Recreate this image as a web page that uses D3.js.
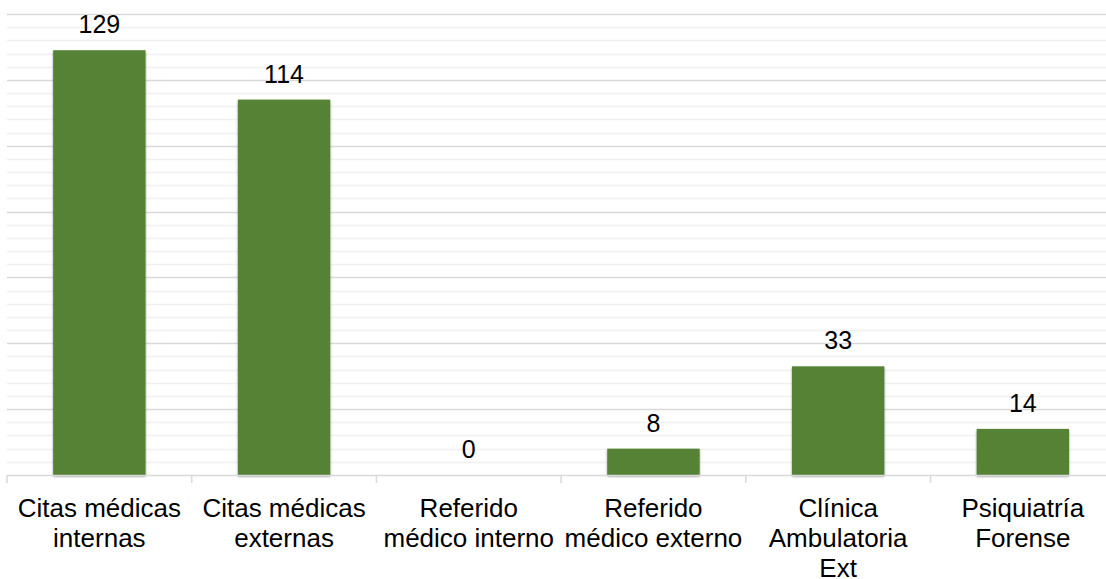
<!DOCTYPE html>
<html>
<head>
<meta charset="utf-8">
<script src="https://cdn.jsdelivr.net/npm/d3@7"></script>
<style>
  body { margin: 0; background: #fff; }
  svg { display: block; font-family: "Liberation Sans", Arial, sans-serif; }
</style>
</head>
<body>
<svg id="chart" width="1106" height="579"></svg>
<script>
const categories = ['Citas médicas internas', 'Citas médicas externas', 'Referido médico interno',
    'Referido médico externo', 'Clínica Ambulatoria Ext', 'Psiquiatría Forense'];
const categoryLines = [
    ['Citas médicas', 'internas'],
    ['Citas médicas', 'externas'],
    ['Referido', 'médico interno'],
    ['Referido', 'médico externo'],
    ['Clínica', 'Ambulatoria', 'Ext'],
    ['Psiquiatría', 'Forense']
];
const values = [129, 114, 0, 8, 33, 14];
const majorTicks = [0, 20, 40, 60, 80, 100, 120, 140];
const minorTicks = d3.range(0, 141, 4);

const width = 1106, height = 579;
const plotLeft = 7, plotRight = 1115.2, plotTop = 14, plotBottom = 475;

let svg = d3.select('#chart');

let defs = svg.append('defs');
defs.append('filter')
    .attr('id', 'barShadow')
    .attr('x', '-10%').attr('y', '-10%')
    .attr('width', '120%').attr('height', '120%')
    .append('feDropShadow')
    .attr('dx', 0).attr('dy', 1.5)
    .attr('stdDeviation', 0.8)
    .attr('flood-color', '#000')
    .attr('flood-opacity', 0.45);

let x = d3.scaleBand()
    .domain(categories)
    .range([plotLeft, plotRight])
    .paddingInner(0.5)
    .paddingOuter(0.25);

let y = d3.scaleLinear()
    .domain([0, 140])
    .range([plotBottom, plotTop]);

// gridlines
let grid = svg.append('g').classed('grid', true);
grid.selectAll('line.minor')
    .data(minorTicks.filter(function(d) { return d % 20 !== 0; }))
    .enter()
    .append('line')
    .classed('minor', true)
    .attr('x1', plotLeft).attr('x2', width)
    .attr('y1', function(d) { return Math.round(y(d)) + 0.5; })
    .attr('y2', function(d) { return Math.round(y(d)) + 0.5; })
    .attr('stroke', '#f0f0f0')
    .attr('stroke-width', 1.5);

grid.selectAll('line.major')
    .data(majorTicks.filter(function(d) { return d > 0; }))
    .enter()
    .append('line')
    .classed('major', true)
    .attr('x1', plotLeft).attr('x2', width)
    .attr('y1', function(d) { return Math.round(y(d)) + 0.5; })
    .attr('y2', function(d) { return Math.round(y(d)) + 0.5; })
    .attr('stroke', '#d9d9d9')
    .attr('stroke-width', 1.5);

// bars
svg.append('g').classed('bars', true)
    .selectAll('rect')
    .data(values)
    .enter()
    .append('rect')
    .attr('x', function(d, i) { return x(categories[i]); })
    .attr('y', function(d) { return y(d); })
    .attr('width', x.bandwidth())
    .attr('height', function(d) { return y(0) - y(d); })
    .attr('fill', '#548235')
    .attr('filter', function(d) { return d > 0 ? 'url(#barShadow)' : null; });

// x axis line and ticks
let axis = svg.append('g').classed('x-axis', true);
axis.append('line')
    .attr('x1', plotLeft).attr('x2', width)
    .attr('y1', plotBottom + 0.5).attr('y2', plotBottom + 0.5)
    .attr('stroke', '#d9d9d9')
    .attr('stroke-width', 1.5);

let boundaries = categories.map(function(c) { return x(c) - x.step() * 0.25; });
axis.selectAll('line.tick')
    .data(boundaries)
    .enter()
    .append('line')
    .classed('tick', true)
    .attr('x1', function(d) { return d; })
    .attr('x2', function(d) { return d; })
    .attr('y1', plotBottom)
    .attr('y2', plotBottom + 8)
    .attr('stroke', '#d9d9d9')
    .attr('stroke-width', 1.5);

// category labels
let labels = axis.selectAll('text')
    .data(categories)
    .enter()
    .append('text')
    .attr('text-anchor', 'middle')
    .attr('font-size', 26)
    .attr('fill', '#000');

labels.each(function(c, i) {
    let t = d3.select(this);
    categoryLines[i].forEach(function(line, j) {
        t.append('tspan')
            .attr('x', x(c) + x.bandwidth() / 2)
            .attr('y', 517 + j * 30)
            .text(line);
    });
});

// value labels
svg.append('g').classed('value-labels', true)
    .selectAll('text')
    .data(values)
    .enter()
    .append('text')
    .attr('x', function(d, i) { return x(categories[i]) + x.bandwidth() / 2; })
    .attr('y', function(d) { return y(d) - 17; })
    .attr('text-anchor', 'middle')
    .attr('font-size', 25)
    .attr('fill', '#000')
    .text(function(d) { return d; });
</script>
</body>
</html>
